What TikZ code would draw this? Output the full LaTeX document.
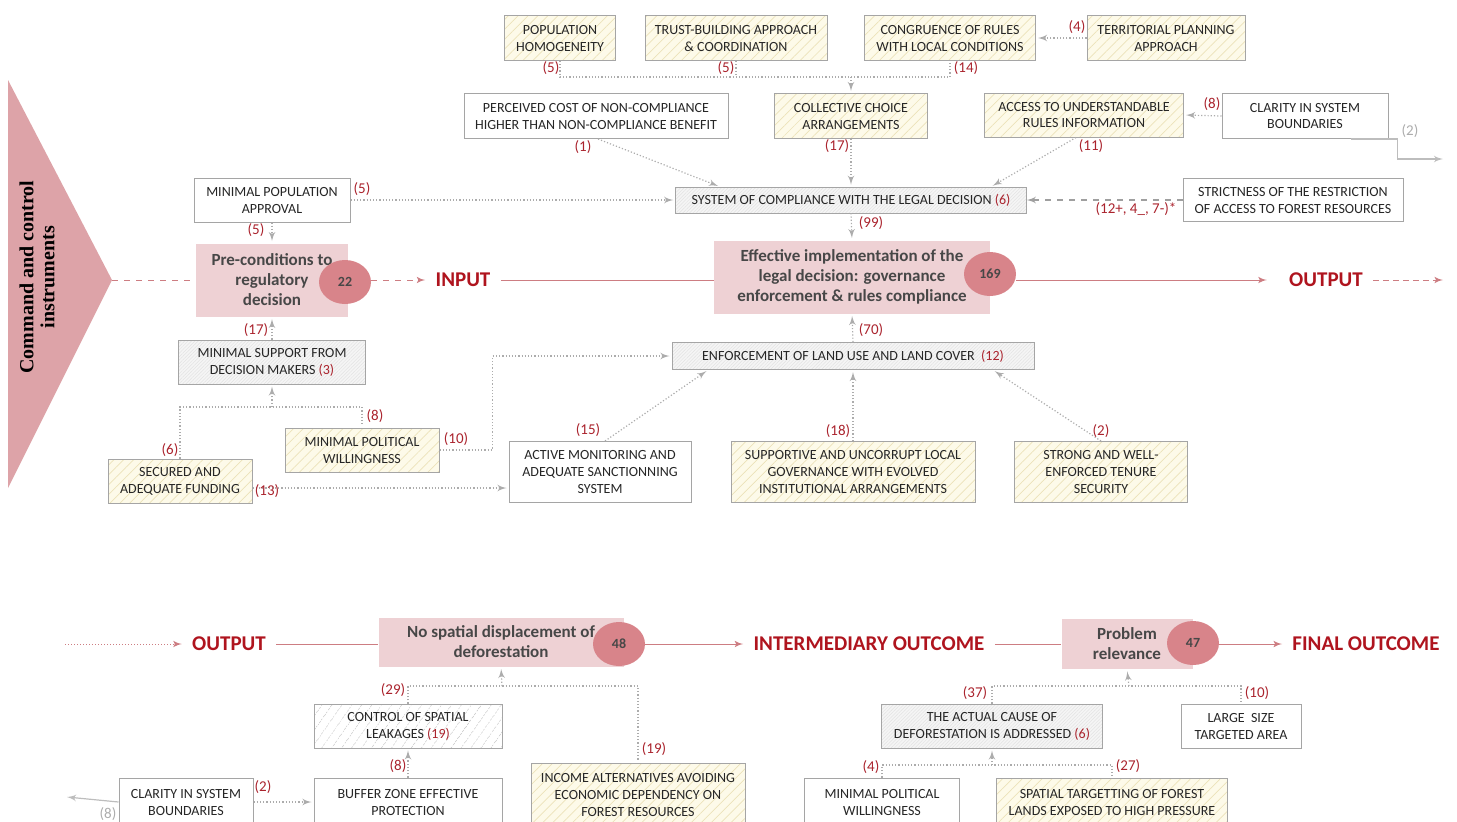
\documentclass[tikz,border=0pt]{standalone}
\usepackage{fontspec}
\setmainfont{Carlito}
\newfontfamily\trifont{Liberation Serif}
\usetikzlibrary{arrows,shapes.geometric,patterns.meta}

\definecolor{numred}{RGB}{170,35,45}
\definecolor{headred}{RGB}{175,20,30}
\definecolor{pinkbox}{RGB}{238,209,212}
\definecolor{pinkdot}{RGB}{216,132,138}
\definecolor{trifill}{RGB}{221,163,168}
\definecolor{linegray}{RGB}{172,172,172}
\definecolor{boxgray}{RGB}{165,165,165}
\definecolor{cream}{RGB}{253,250,233}
\definecolor{stripe}{RGB}{236,226,185}
\definecolor{axiscol}{RGB}{205,125,130}

\tikzset{
  boxbase/.style={draw=boxgray, line width=0.5pt, align=center, inner sep=1pt,
    text=black!85, font=\fontsize{7}{8.5}\selectfont},
  whitebox/.style={boxbase, fill=white},
  hatchbox/.style={boxbase, preaction={fill=cream},
    pattern={Lines[angle=45,distance=3.5pt,line width=0.35pt]}, pattern color=stripe},
  greybox/.style={boxbase, preaction={fill=gray!8},
    pattern={Lines[angle=45,distance=1.2pt,line width=0.25pt]}, pattern color=gray!22},
  leakbox/.style={boxbase, preaction={fill=white},
    pattern={Lines[angle=55,distance=4pt,line width=0.35pt]}, pattern color=gray!35},
  stagebox/.style={fill=pinkbox, align=center, inner sep=1pt, text=black!72,
    font=\fontsize{8.5}{10}\selectfont\bfseries},
  scoredot/.style={ellipse, fill=pinkdot, minimum width=26pt, minimum height=22pt,
    inner sep=0pt, text=black!72, font=\fontsize{7}{8}\selectfont\bfseries},
  phaselabel/.style={text=headred, inner xsep=5pt, font=\fontsize{10.5}{12}\selectfont\bfseries},
  numlabel/.style={text=numred, inner sep=0pt, font=\fontsize{7.5}{9}\selectfont},
  linkline/.style={draw=linegray, densely dotted, line width=0.6pt, shorten >=1pt},
  axisline/.style={draw=axiscol, line width=0.5pt},
}

\begin{document}
\begin{tikzpicture}[x=0.5pt, y=-0.5pt, >=latex']
\useasboundingbox (0,0) rectangle (1457,821);
\clip (0,0) rectangle (1457,821);

% side triangle
\fill[trifill] (8,80) -- (112,280) -- (8,488) -- cycle;
\coordinate (apex) at (112,280);
\node[rotate=90, align=center, font=\fontsize{10}{10.5}\selectfont\trifont\bfseries]
  (instr) at (37,277) {Command and control\\instruments};

% top row
\node[hatchbox, minimum width=55.5pt, minimum height=22.5pt] (popu) at (560,38) {POPULATION\\HOMOGENEITY};
\node[hatchbox, minimum width=91pt, minimum height=22.5pt] (trust) at (736,38) {TRUST-BUILDING APPROACH\\\& COORDINATION};
\node[hatchbox, minimum width=85.5pt, minimum height=22.5pt] (congr) at (950,38) {CONGRUENCE OF RULES\\WITH LOCAL CONDITIONS};
\node[hatchbox, minimum width=79pt, minimum height=22.5pt] (terr) at (1166,38) {TERRITORIAL PLANNING\\APPROACH};

% second row
\node[whitebox, minimum width=132pt, minimum height=22.5pt] (perc) at (596,116) {PERCEIVED COST OF NON-COMPLIANCE\\HIGHER THAN NON-COMPLIANCE BENEFIT};
\node[hatchbox, minimum width=76.5pt, minimum height=22.5pt] (coll) at (851,116) {COLLECTIVE CHOICE\\ARRANGEMENTS};
\node[hatchbox, minimum width=99.5pt, minimum height=22pt] (access) at (1084,115) {ACCESS TO UNDERSTANDABLE\\RULES INFORMATION};
\node[whitebox, minimum width=83pt, minimum height=22.5pt] (clar) at (1305,116) {CLARITY IN SYSTEM\\BOUNDARIES};

% compliance row
\node[whitebox, minimum width=78pt, minimum height=22pt] (minpop) at (272,200) {MINIMAL POPULATION\\APPROVAL};
\node[greybox, minimum width=175.5pt, minimum height=13pt] (system) at (851,200) {SYSTEM OF COMPLIANCE WITH THE LEGAL DECISION \textcolor{numred}{(6)}};
\node[whitebox, minimum width=110pt, minimum height=21.5pt] (strict) at (1293,200) {STRICTNESS OF THE RESTRICTION\\OF ACCESS TO FOREST RESOURCES};

% input line
\node[stagebox, minimum width=76pt, minimum height=36.5pt] (pre) at (272,280) {Pre-conditions to\\regulatory\\decision};
\node[scoredot] (c22) at (345,282) {22};
\node[phaselabel] (input) at (463,280) {INPUT};
\node[stagebox, minimum width=138pt, minimum height=36.5pt] (eff) at (852,277) {Effective implementation of the\\legal decision: governance\\enforcement \& rules compliance};
\node[scoredot] (c169) at (990,274) {169};
\node[phaselabel] (output) at (1326,280) {OUTPUT};
\coordinate (outend) at (1443,280);

% enforcement part
\node[greybox, minimum width=93.5pt, minimum height=22pt] (minsup) at (272,362) {MINIMAL SUPPORT FROM\\DECISION MAKERS \textcolor{numred}{(3)}};
\node[greybox, minimum width=181pt, minimum height=13.5pt] (enforce) at (853,356) {ENFORCEMENT OF LAND USE AND LAND COVER\ \ \textcolor{numred}{(12)}};
\node[hatchbox, minimum width=77pt, minimum height=22pt] (polit) at (362,450) {MINIMAL POLITICAL\\WILLINGNESS};
\node[hatchbox, minimum width=72pt, minimum height=22pt] (fund) at (180,481) {SECURED AND\\ADEQUATE FUNDING};
\node[whitebox, minimum width=91pt, minimum height=30.5pt] (active) at (600,472) {ACTIVE MONITORING AND\\ADEQUATE SANCTIONNING\\SYSTEM};
\node[hatchbox, minimum width=122pt, minimum height=30.5pt] (supp) at (853,472) {SUPPORTIVE AND UNCORRUPT LOCAL\\GOVERNANCE WITH EVOLVED\\INSTITUTIONAL ARRANGEMENTS};
\node[hatchbox, minimum width=86.5pt, minimum height=30.5pt] (strong) at (1101,472) {STRONG AND WELL-\\ENFORCED TENURE\\SECURITY};

% lower chain
\coordinate (bstart) at (65,644);
\node[phaselabel] (output2) at (229,644) {OUTPUT};
\node[stagebox, minimum width=122.5pt, minimum height=24.5pt] (nospat) at (501,642) {No spatial displacement of\\deforestation};
\node[scoredot] (c48) at (619,644) {48};
\node[phaselabel] (inter) at (869,644) {INTERMEDIARY OUTCOME};
\node[stagebox, minimum width=65.5pt, minimum height=25pt] (prob) at (1127,644) {Problem\\relevance};
\node[scoredot] (c47) at (1193,643) {47};
\node[phaselabel] (final) at (1366,644) {FINAL OUTCOME};

\node[leakbox, minimum width=94pt, minimum height=22pt] (control) at (408,726) {CONTROL OF SPATIAL\\LEAKAGES \textcolor{numred}{(19)}};
\node[whitebox, minimum width=94pt, minimum height=24pt] (buffer) at (408,802) {BUFFER ZONE EFFECTIVE\\PROTECTION};
\node[whitebox, minimum width=67pt, minimum height=24pt] (clar2) at (186,802) {CLARITY IN SYSTEM\\BOUNDARIES};
\coordinate (clarleft) at (67,797);
\node[hatchbox, minimum width=107pt, minimum height=32pt] (income) at (638,795) {INCOME ALTERNATIVES AVOIDING\\ECONOMIC DEPENDENCY ON\\FOREST RESOURCES};
\node[greybox, minimum width=110.5pt, minimum height=22pt] (actual) at (992,726) {THE ACTUAL CAUSE OF\\DEFORESTATION IS ADDRESSED \textcolor{numred}{(6)}};
\node[whitebox, minimum width=60pt, minimum height=22pt] (large) at (1241,726) {LARGE\ \ SIZE\\TARGETED AREA};
\node[whitebox, minimum width=77.5pt, minimum height=24pt] (minpol2) at (882,802) {MINIMAL POLITICAL\\WILLINGNESS};
\node[hatchbox, minimum width=115.5pt, minimum height=24pt] (spatial) at (1112,802) {SPATIAL TARGETTING OF FOREST\\LANDS EXPOSED TO HIGH PRESSURE};

% junctions
\coordinate (jtop) at (851,77);
\coordinate (jsup) at (272,407);
\coordinate (jsp) at (502,686);
\coordinate (jpr) at (1129,686);
\coordinate (jac) at (992,765);

% main axis
\draw[axisline, dashed] (apex) -- (pre.west |- apex);
\draw[axisline, dashed, ->] (c22.east |- input.west) -- (input.west);
\draw[axisline] (input.east) -- (input.east -| eff.west);
\draw[axisline, ->] (output.west -| c169.east) -- ([xshift=-6pt]output.west);
\draw[axisline, densely dashed, ->] (output.east) -- (outend);
\draw[axisline, densely dotted, ->] (bstart) -- (output2.west);
\draw[axisline] (output2.east) -- (output2.east -| nospat.west);
\draw[axisline, ->] (inter.west -| c48.east) -- (inter.west);
\draw[axisline] (inter.east) -- (inter.east -| prob.west);
\draw[axisline, ->] (final.west -| c47.east) -- (final.west);

% upper links
\draw[linkline] (popu.south) |- (congr.south |- jtop) -- (congr.south);
\draw[linkline] (trust.south) -- (trust.south |- jtop);
\draw[linkline, ->] (jtop) -- (coll.north);
\draw[linkline, ->] (terr.west) -- (congr.east);
\draw[linkline, ->] ([xshift=1pt]perc.south) -- ([xshift=-65.5pt]system.north);
\draw[linkline, ->] (coll.south) -- (system.north);
\draw[linkline, ->] ([xshift=-4pt]access.south) -- ([xshift=70pt]system.north);
\draw[linkline, ->] (clar.west) -- (access.east);
\draw[draw=linegray!80, line width=0.6pt, ->] ([xshift=-19pt]clar.south east) -- ++(47,0) |- (1443,159);
\draw[linkline, ->] (minpop.east) -- (system.west);
\draw[draw=gray!75, dashed, line width=0.6pt, ->] (strict.west) -- (system.east);
\draw[linkline, ->] (system.south) -- (eff.north);
\draw[linkline, ->] (minpop.south) -- (pre.north);

% lower links
\draw[linkline, ->] (minsup.north) -- (pre.south);
\draw[linkline] (fund.north) |- (polit.north |- jsup) -- (polit.north);
\draw[linkline, ->] (jsup) -- (minsup.south);
\draw[linkline, ->] (polit.east) -- ++(53,0) |- (enforce.west);
\coordinate (fundout) at ([yshift=-3.5pt]fund.east);
\draw[linkline, ->] (fundout) -- (fundout -| active.west);
\draw[linkline, ->] ([xshift=2.5pt]active.north) -- ([xshift=-72.5pt]enforce.south);
\draw[linkline, ->] (supp.north) -- (enforce.south);
\draw[linkline, ->] (strong.north) -- ([xshift=70pt]enforce.south);
\draw[linkline, ->] (enforce.north) -- (eff.south);

% outcome links
\draw[linkline] (control.north) |- (income.north |- jsp) -- (income.north);
\draw[linkline, ->] (jsp) -- (nospat.south);
\draw[linkline, ->] (buffer.north) -- (control.south);
\draw[linkline, ->] (clar2.east) -- (buffer.west);
\draw[draw=linegray!80, line width=0.6pt, ->] (clar2.west) -- (clarleft);
\draw[linkline] (actual.north) |- (large.north |- jpr) -- (large.north);
\draw[linkline, ->] (jpr) -- (prob.south);
\draw[linkline] (minpol2.north) |- (spatial.north |- jac) -- (spatial.north);
\draw[linkline, ->] (jac) -- (actual.south);

% counts
\foreach \x/\y/\t [count=\i] in {551/68/{(5)}, 726/68/{(5)}, 966/68/{(14)}, 1077/27/{(4)},
    583/147/{(1)}, 837/146/{(17)}, 1091/146/{(11)}, 1212/104/{(8)}, 362/189/{(5)},
    256/230/{(5)}, 871/223/{(99)}, 256/330/{(17)}, 871/330/{(70)}, 375/416/{(8)},
    170/450/{(6)}, 456/439/{(10)}, 267/491/{(13)}, 588/430/{(15)}, 838/431/{(18)},
    1101/431/{(2)}, 393/690/{(29)}, 654/749/{(19)}, 398/766/{(8)}, 263/787/{(2)},
    975/693/{(37)}, 1257/693/{(10)}, 871/767/{(4)}, 1128/766/{(27)}}
  \node[numlabel] (n\i) at (\x,\y) {\t};
\node[numlabel] (nstrict) at (1136,209) {(12+, 4\_, 7-)*};
\node[numlabel, text=gray!65] (nclar) at (1410,131) {(2)};
\node[numlabel, text=gray!65] (nclar2) at (108,814) {(8)};
\end{tikzpicture}
\end{document}
